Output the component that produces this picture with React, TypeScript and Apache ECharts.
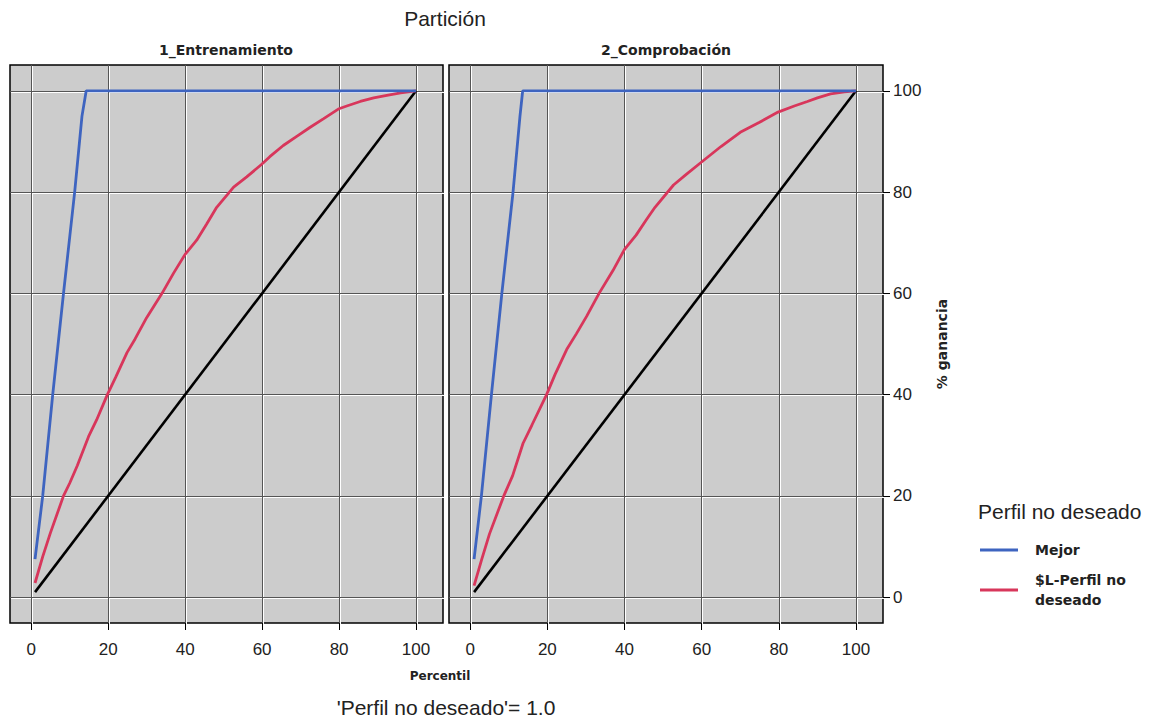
import React, { useEffect, useRef } from "react";
import * as echarts from "echarts";

// ---- data ----
const PANELS = ["1_Entrenamiento", "2_Comprobación"];
const X_TICKS = [0, 20, 40, 60, 80, 100];
const Y_TICKS = [0, 20, 40, 60, 80, 100];

// "Mejor" (best) curve
const BEST_TRAIN_X = [1, 3, 5.6, 8.4, 11.3, 13.2, 14.3, 100];
const BEST_TRAIN_Y = [7.5, 20, 40, 60, 80, 95, 100, 100];
const BEST_TEST_X = [1, 2.9, 5.5, 8.2, 11.1, 12.9, 13.6, 100];
const BEST_TEST_Y = [7.5, 20, 40, 60, 80, 95, 100, 100];

// "$L-Perfil no deseado" (model) curve
const MODEL_TRAIN_X = [1, 3, 5, 8.4, 10, 12, 14.9, 17, 19.8, 22, 24.9, 27, 30, 34, 37, 40, 43, 45.6, 48.2, 52.6, 56, 59.9, 62, 65.5, 69, 72.5, 76, 79.8, 82, 85.5, 89, 92.4, 96, 100];
const MODEL_TRAIN_Y = [2.8, 8, 12.7, 20, 22.5, 26, 31.7, 35, 40, 43.5, 48.3, 51, 55.2, 60, 64, 67.7, 70.5, 73.7, 77, 81, 83, 85.5, 87, 89.2, 91, 92.8, 94.5, 96.4, 97, 97.9, 98.6, 99.1, 99.6, 100];
const MODEL_TEST_X = [1, 3, 5, 8.7, 11, 13.7, 16, 19.8, 22, 25, 27.5, 30.2, 33.4, 37, 40, 43, 45.7, 47.9, 52.7, 56, 59.9, 65, 70, 75, 79.8, 84, 87.4, 90, 93.4, 97, 100];
const MODEL_TEST_Y = [2.3, 7.5, 12.5, 20, 24, 30.4, 34, 40, 44, 48.9, 52, 55.5, 60, 64.5, 68.7, 71.5, 74.6, 77, 81.4, 83.5, 85.9, 89, 91.8, 93.8, 95.8, 97, 97.9, 98.6, 99.4, 99.8, 100];

// Baseline (random) diagonal
const BASE_X = [1, 100];
const BASE_Y = [1, 100];

const SERIES_BEST = "Mejor";
const SERIES_MODEL = "$L-Perfil no\ndeseado";

const pairs = (xs: number[], ys: number[]) => xs.map((x, i) => [x, ys[i]]);

export default function App() {
  const ref = useRef<HTMLDivElement>(null);

  useEffect(() => {
    if (!ref.current) return;
    const chart = echarts.init(ref.current, null, { renderer: "svg" });

    const textColor = "#222";
    const font = "'Liberation Sans', Arial, sans-serif";
    const font2 = "'DejaVu Sans', Verdana, sans-serif";

    const X_MIN = -5.5;
    const X_MAX = 107;
    const Y_MIN = -5.1;
    const Y_MAX = 105.1;

    const baseGrids = [
      { left: 10, top: 65, width: 433, height: 558 },
      { left: 449, top: 65, width: 434, height: 558 },
    ];

    const grids = [
      ...baseGrids.map((g) => ({
        ...g,
        show: true,
        z: 0,
        backgroundColor: "#cccccc",
        borderColor: "#000",
        borderWidth: 1.5,
        containLabel: false,
      })),
      // offset grids that carry the white highlight of each grid line
      ...baseGrids.map((g) => ({
        left: g.left + 1,
        top: g.top + 1,
        width: g.width,
        height: g.height,
        show: false,
        containLabel: false,
      })),
    ];

    const darkX = [0, 1].map((i) => ({
      type: "value",
      gridIndex: i,
      min: X_MIN,
      max: X_MAX,
      z: 2,
      axisLine: { show: false, onZero: false },
      axisTick: { show: true, length: 7, lineStyle: { color: "#000" }, customValues: X_TICKS },
      axisLabel: {
        show: true,
        customValues: X_TICKS,
        margin: 18,
        color: textColor,
        fontFamily: font,
        fontSize: 17,
      },
      splitLine: { show: true, lineStyle: { color: "#555555", width: 1 } },
    }));

    const whiteX = [2, 3].map((i) => ({
      type: "value",
      gridIndex: i,
      min: X_MIN,
      max: X_MAX,
      z: 1,
      axisLine: { show: false, onZero: false },
      axisTick: { show: false, customValues: X_TICKS },
      axisLabel: { show: false, customValues: X_TICKS },
      splitLine: { show: true, lineStyle: { color: "#ffffff", width: 1 } },
    }));

    const darkY = [0, 1].map((i) => ({
      type: "value",
      gridIndex: i,
      position: "right",
      min: Y_MIN,
      max: Y_MAX,
      z: 2,
      axisLine: { show: false, onZero: false },
      axisTick: {
        show: i === 1,
        length: 7,
        lineStyle: { color: "#000" },
        customValues: Y_TICKS,
      },
      axisLabel: {
        show: i === 1,
        customValues: Y_TICKS,
        margin: 10,
        color: textColor,
        fontFamily: font,
        fontSize: 17,
      },
      name: i === 1 ? "% ganancia" : "",
      nameLocation: "middle",
      nameRotate: 90,
      nameGap: 52,
      nameTextStyle: { color: textColor, fontFamily: font2, fontSize: 14, fontWeight: "bold" },
      splitLine: { show: true, lineStyle: { color: "#555555", width: 1 } },
    }));

    const whiteY = [2, 3].map((i) => ({
      type: "value",
      gridIndex: i,
      position: "right",
      min: Y_MIN,
      max: Y_MAX,
      z: 1,
      axisLine: { show: false, onZero: false },
      axisTick: { show: false, customValues: Y_TICKS },
      axisLabel: { show: false, customValues: Y_TICKS },
      splitLine: { show: true, lineStyle: { color: "#ffffff", width: 1 } },
    }));

    const lineSeries = (name: string, idx: number, data: number[][], color: string, width: number) => ({
      type: "line",
      name,
      xAxisIndex: idx,
      yAxisIndex: idx,
      data,
      showSymbol: false,
      symbol: "none",
      lineStyle: { color, width },
      itemStyle: { color },
      z: 5,
    });

    const BLUE = "#3e64c0";
    const RED = "#d8365b";

    const series = [
      lineSeries("Base", 0, pairs(BASE_X, BASE_Y), "#000", 2.6),
      lineSeries("Base", 1, pairs(BASE_X, BASE_Y), "#000", 2.6),
      lineSeries(SERIES_MODEL, 0, pairs(MODEL_TRAIN_X, MODEL_TRAIN_Y), RED, 2.8),
      lineSeries(SERIES_MODEL, 1, pairs(MODEL_TEST_X, MODEL_TEST_Y), RED, 2.8),
      lineSeries(SERIES_BEST, 0, pairs(BEST_TRAIN_X, BEST_TRAIN_Y), BLUE, 2.8),
      lineSeries(SERIES_BEST, 1, pairs(BEST_TEST_X, BEST_TEST_Y), BLUE, 2.8),
    ];

    const text = (x: number, y: number, t: string, size: number, family: string, weight = "normal", align = "center") => ({
      type: "text",
      x,
      y,
      z: 10,
      style: {
        text: t,
        fill: textColor,
        font: `${weight} ${size}px ${family}`,
        textAlign: align,
        textVerticalAlign: "middle",
      },
    });

    chart.setOption({
      animation: false,
      backgroundColor: "#ffffff",
      grid: grids,
      xAxis: [...darkX, ...whiteX],
      yAxis: [...darkY, ...whiteY],
      series,
      legend: {
        data: [SERIES_BEST, SERIES_MODEL],
        orient: "vertical",
        left: 975,
        top: 535,
        itemWidth: 38,
        itemHeight: 3,
        itemGap: 10,
        icon: "rect",
        textStyle: {
          color: textColor,
          fontFamily: font2,
          fontSize: 14,
          fontWeight: "bold",
          lineHeight: 20,
          padding: [0, 0, 0, 12],
        },
        selectedMode: false,
      },
      graphic: [
        text(445, 18, "Partición", 21, font),
        text(226, 50, PANELS[0], 14, font2, "bold"),
        text(666, 50, PANELS[1], 14, font2, "bold"),
        text(440, 676, "Percentil", 12, font2, "bold"),
        text(446, 707, "'Perfil no deseado'= 1.0", 21, font),
        text(978, 511, "Perfil no deseado", 21, font, "normal", "left"),
      ],
    });

    return () => chart.dispose();
  }, []);

  return (
    <div
      ref={ref}
      style={{ position: "absolute", left: 0, top: 0, width: 1152, height: 720 }}
    />
  );
}
